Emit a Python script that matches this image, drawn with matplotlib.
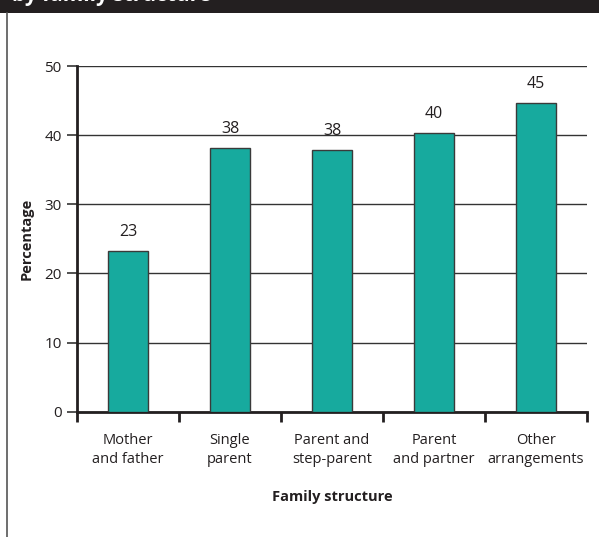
import matplotlib
matplotlib.use("Agg")
import matplotlib.pyplot as plt
from matplotlib.lines import Line2D
from matplotlib.patches import Rectangle
import numpy as np

plt.rcParams['font.family'] = ['Open Sans', 'DejaVu Sans']

categories = ["Mother\nand father", "Single\nparent", "Parent and\nstep-parent",
              "Parent\nand partner", "Other\narrangements"]
percentages = [23.3, 38.2, 37.8, 40.3, 44.6]
y_ticks = [0, 10, 20, 30, 40, 50]

bar_color = "#17aa9e"
dark = "#231f20"

fig = plt.figure(figsize=(5.99, 5.37), dpi=100)

# Header band and left frame line
fig.add_artist(Rectangle((0, 1 - 13 / 537), 1, 13 / 537, transform=fig.transFigure,
                         facecolor=dark, edgecolor="none", zorder=0))
fig.add_artist(Line2D([7 / 599, 7 / 599], [0, 1 - 13 / 537], transform=fig.transFigure,
                      color="#555555", lw=1.2))
fig.text(12 / 599, 1 - 1.5 / 537, "by family structure", color="white", fontsize=15,
         fontweight="bold", va="baseline", ha="left")

ax = fig.add_axes([77 / 599, 1 - 411.7 / 537, 510 / 599, (411.7 - 66) / 537])
x = np.arange(len(categories))
bars = ax.bar(x, percentages, width=0.4, color=bar_color, edgecolor="#3a3a3a",
              linewidth=1.0, zorder=3)

for xi, v in zip(x, percentages):
    ax.text(xi, v + 1.6, f"{v:.0f}", ha="center", va="bottom", fontsize=11.5,
            color=dark)

ax.set_xlim(-0.5, len(categories) - 0.5)
ax.set_ylim(0, 50)
ax.set_yticks(y_ticks)
ax.set_yticklabels([str(t) for t in y_ticks], fontsize=11, color=dark)
ax.yaxis.grid(True, color="#333333", linewidth=1.0, zorder=0)
ax.set_axisbelow(True)

ax.set_xticks(np.arange(-0.5, len(categories), 1.0))
ax.set_xticklabels([])
ax.set_xticks(x, minor=True)
ax.set_xticklabels(categories, minor=True, fontsize=10.5, color=dark,
                   linespacing=1.38)
ax.tick_params(axis="x", which="major", length=7, width=2, color=dark, direction="out")
ax.tick_params(axis="x", which="minor", length=0, pad=15)
ax.tick_params(axis="y", length=7, width=1.2, color="#333333", pad=4)

for side in ["top", "right"]:
    ax.spines[side].set_visible(False)
ax.spines["left"].set_linewidth(2)
ax.spines["bottom"].set_linewidth(2)
ax.spines["left"].set_color(dark)
ax.spines["bottom"].set_color(dark)

ax.set_ylabel("Percentage", fontsize=10.5, fontweight="bold", color=dark, labelpad=8)
ax.set_xlabel("Family structure", fontsize=10.5, fontweight="bold", color=dark,
              labelpad=17)

fig.savefig("out.png", dpi=100)
